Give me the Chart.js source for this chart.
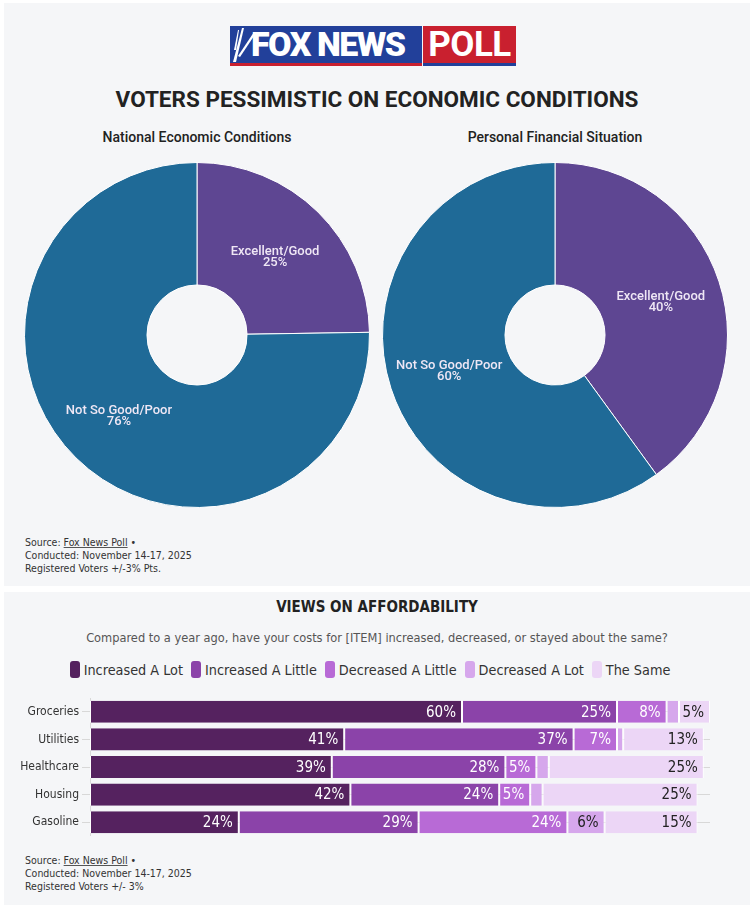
<!DOCTYPE html>
<html>
<head>
<meta charset="utf-8">
<script src="https://cdn.jsdelivr.net/npm/chart.js@4.4.1/dist/chart.umd.min.js"></script>
<style>
  body { margin: 0; width: 754px; height: 909px; background: #fff; position: relative; overflow: hidden; font-family: Roboto, sans-serif; color: #222; }
  .abs { position: absolute; }
  .panel { position: absolute; left: 4px; width: 746px; background: #f5f6f8; }
  .narrow { font-family: "Liberation Sans Narrow", "DejaVu Sans Condensed", sans-serif; }
  .center { text-align: center; }
  .source { left: 25px; font-size: 10.5px; line-height: 13px; color: #333; }
  .source u { text-decoration-color: #555; }
  #legend { left: 0; top: 661px; width: 740px; display: flex; justify-content: center; font-size: 14.3px; color: #333; }
  #legend .item { display: flex; align-items: center; margin: 0 4px; }
  #legend .sw { width: 10px; height: 17px; border-radius: 3px; margin-right: 4px; }
</style>
</head>
<body>
<div class="panel" style="top:3px;height:583px"></div>
<div class="panel" style="top:592px;height:313px"></div>

<!-- logo -->
<div class="abs" style="left:230px;top:26px;width:192px;height:37px;background:#22409a"></div>
<div class="abs" style="left:423px;top:26px;width:93px;height:37px;background:#c9202f"></div>
<div class="abs" style="left:230px;top:63px;width:192px;height:3px;background:#c9202f"></div>
<div class="abs" style="left:423px;top:63px;width:93px;height:3px;background:#22409a"></div>
<svg class="abs" style="left:230px;top:26px" width="30" height="37">
  <polygon points="3,36 12,2 14,2 6,36" fill="#fff"/>
  <polygon points="8,30 24,6 26,7 10,31" fill="#fff"/>
  <polygon points="4,24 8,4 9,4 6,24" fill="#fff"/>
</svg>
<div class="abs" style="left:251px;top:25px;width:172px;height:37px;line-height:39px;font-weight:900;font-size:34px;letter-spacing:-1.5px;color:#fff">FOX NEWS</div>
<div class="abs center" style="left:423px;top:25px;width:93px;height:37px;line-height:39px;font-weight:700;font-size:35px;letter-spacing:-0.5px;color:#fff">POLL</div>

<div class="abs center" style="left:0;top:86px;width:754px;font-size:22.5px;font-weight:700;color:#222">VOTERS PESSIMISTIC ON ECONOMIC CONDITIONS</div>
<div class="abs center" style="left:47px;top:129px;width:300px;font-size:14px;font-weight:500">National Economic Conditions</div>
<div class="abs center" style="left:405px;top:129px;width:300px;font-size:14px;font-weight:500">Personal Financial Situation</div>

<div class="abs" style="left:24px;top:162px;width:346px;height:346px"><canvas id="national"></canvas></div>
<div class="abs" style="left:382px;top:162px;width:346px;height:346px"><canvas id="personal"></canvas></div>

<div class="abs source narrow" style="top:536px">Source: <u>Fox News Poll</u> &bull;<br>Conducted: November 14-17, 2025<br>Registered Voters +/-3% Pts.</div>

<div class="abs center narrow" style="left:0;top:598px;width:754px;font-size:15px;font-weight:700;color:#222">VIEWS ON AFFORDABILITY</div>
<div class="abs center narrow" style="left:0;top:630px;width:754px;font-size:12.7px;color:#555">Compared to a year ago, have your costs for [ITEM] increased, decreased, or stayed about the same?</div>
<div id="legend" class="abs narrow"></div>

<div class="abs" style="left:0;top:698px;width:710px;height:138px"><canvas id="afford"></canvas></div>

<div class="abs source narrow" style="top:854px">Source: <u>Fox News Poll</u> &bull;<br>Conducted: November 14-17, 2025<br>Registered Voters +/- 3%</div>

<script>
const PIE_LABELS = ["Excellent/Good", "Not So Good/Poor"];
const NATIONAL_VALUES = [25, 76];
const PERSONAL_VALUES = [40, 60];
const PIE_COLORS = ["#5e4692", "#1f6a97"];

const ITEMS = ["Groceries", "Utilities", "Healthcare", "Housing", "Gasoline"];
const SERIES = ["Increased A Lot", "Increased A Little", "Decreased A Little", "Decreased A Lot", "The Same"];
const INCREASED_LOT = [60, 41, 39, 42, 24];
const INCREASED_LITTLE = [25, 37, 28, 24, 29];
const DECREASED_LITTLE = [8, 7, 5, 5, 24];
const DECREASED_LOT = [2, 1, 2, 2, 6];
const THE_SAME = [5, 13, 25, 25, 15];
const BAR_COLORS = ["#55225f", "#8b43a9", "#b86ad6", "#d6a7ec", "#ecd6f6"];

const NARROW = "'Liberation Sans Narrow', 'DejaVu Sans Condensed', sans-serif";

const sliceLabels = {
  id: "sliceLabels",
  afterDatasetsDraw(chart) {
    const ctx = chart.ctx;
    const values = chart.data.datasets[0].data;
    ctx.save();
    ctx.font = "500 13px Roboto";
    ctx.fillStyle = "#efe7f5";
    ctx.textAlign = "center";
    ctx.textBaseline = "middle";
    chart.getDatasetMeta(0).data.forEach((arc, i) => {
      const p = arc.getCenterPoint();
      ctx.fillText(chart.data.labels[i], p.x, p.y - 4);
      ctx.fillText(values[i] + "%", p.x, p.y + 7);
    });
    ctx.restore();
  },
};

function createPie(id, values) {
  return new Chart(document.getElementById(id), {
    type: "doughnut",
    data: {
      labels: PIE_LABELS,
      datasets: [{ data: values, backgroundColor: PIE_COLORS, borderColor: "#fff", borderWidth: 1 }],
    },
    options: {
      responsive: true,
      maintainAspectRatio: false,
      animation: false,
      cutout: "29%",
      plugins: { legend: { display: false }, tooltip: { enabled: false } },
    },
    plugins: [sliceLabels],
  });
}

const barLabels = {
  id: "barLabels",
  afterDatasetsDraw(chart) {
    const ctx = chart.ctx;
    ctx.save();
    ctx.font = "15px " + NARROW;
    ctx.textAlign = "right";
    ctx.textBaseline = "middle";
    chart.data.datasets.forEach((ds, i) => {
      chart.getDatasetMeta(i).data.forEach((bar, j) => {
        const v = ds.data[j];
        if (v < 5) return;
        ctx.fillStyle = i < 3 ? "#fff" : "#222";
        ctx.fillText(v + "%", bar.x - 6, bar.y + 1);
      });
    });
    ctx.restore();
  },
};

function createBars() {
  const seriesData = [INCREASED_LOT, INCREASED_LITTLE, DECREASED_LITTLE, DECREASED_LOT, THE_SAME];
  const datasets = SERIES.map((name, i) => ({
    label: name,
    data: seriesData[i],
    backgroundColor: BAR_COLORS[i],
    borderColor: "#fff",
    borderWidth: { left: 1, right: 1, top: 0, bottom: 0 },
    borderSkipped: false,
    barPercentage: 0.8,
    categoryPercentage: 1,
  }));

  return new Chart(document.getElementById("afford"), {
    type: "bar",
    data: { labels: ITEMS, datasets: datasets },
    options: {
      indexAxis: "y",
      responsive: true,
      maintainAspectRatio: false,
      animation: false,
      layout: { padding: 0 },
      scales: {
        x: { stacked: true, min: 0, max: 100, display: false },
        y: {
          stacked: true,
          offset: true,
          grid: { offset: false, color: "#d8d8d8", tickLength: 8 },
          border: { display: true, color: "#d8d8d8" },
          ticks: { color: "#333", padding: 3, font: { size: 12, family: NARROW } },
          afterFit(scale) {
            scale.width = 90;
            scale.paddingTop = 0;
            scale.paddingBottom = 0;
          },
        },
      },
      plugins: { legend: { display: false }, tooltip: { enabled: false } },
    },
    plugins: [barLabels],
  });
}

function buildLegend() {
  const legend = document.getElementById("legend");
  SERIES.forEach((name, i) => {
    const item = document.createElement("div");
    item.className = "item";
    item.innerHTML = '<span class="sw" style="background:' + BAR_COLORS[i] + '"></span>' + name;
    legend.appendChild(item);
  });
}

document.addEventListener("DOMContentLoaded", () => {
  createPie("national", NATIONAL_VALUES);
  createPie("personal", PERSONAL_VALUES);
  buildLegend();
  createBars();
});
</script>
</body>
</html>
